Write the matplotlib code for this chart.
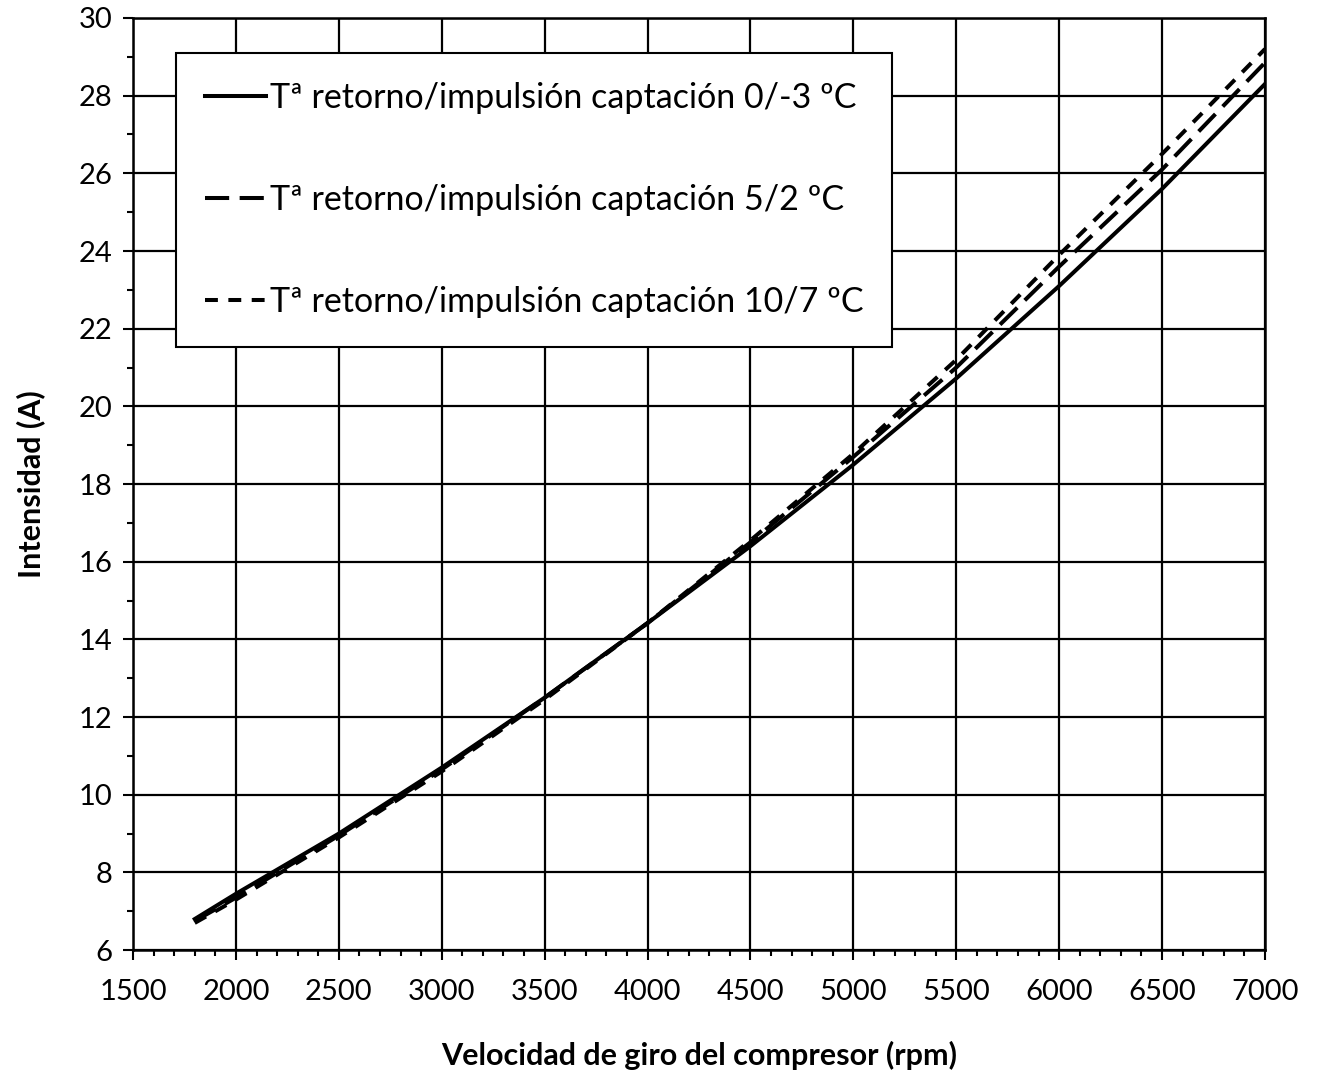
import matplotlib
matplotlib.use('Agg')
import matplotlib.pyplot as plt
from matplotlib.ticker import MultipleLocator

plt.rcParams['font.family'] = ['Lato', 'DejaVu Sans']

# datos
rpm = [1800, 2000, 2500, 3000, 3500, 4000, 4500, 5000, 5500, 6000, 6500, 7000]
i_0_3 = [6.8, 7.45, 9.0, 10.7, 12.5, 14.42, 16.4, 18.5, 20.72, 23.1, 25.6, 28.3]
i_5_2 = [6.75, 7.35, 8.95, 10.65, 12.5, 14.42, 16.5, 18.7, 21.0, 23.6, 26.1, 28.85]
i_10_7 = [6.7, 7.3, 8.9, 10.6, 12.45, 14.42, 16.55, 18.78, 21.2, 23.9, 26.5, 29.2]
etiquetas = ['Tª retorno/impulsión captación 0/-3 ºC',
             'Tª retorno/impulsión captación 5/2 ºC',
             'Tª retorno/impulsión captación 10/7 ºC']

fig = plt.figure(figsize=(13.17, 10.76), dpi=100)
ax = fig.add_axes([0.101, 0.117, 0.8595, 0.8663])

ax.plot(rpm, i_0_3, color='black', lw=2.9, label=etiquetas[0])
ax.plot(rpm, i_5_2, color='black', lw=2.9, dashes=(6, 2.6), label=etiquetas[1])
ax.plot(rpm, i_10_7, color='black', lw=2.9, dashes=(3.2, 2.6), label=etiquetas[2])

ax.set_xlim(1500, 7000)
ax.set_ylim(6, 30)
ax.xaxis.set_major_locator(MultipleLocator(500))
ax.xaxis.set_minor_locator(MultipleLocator(100))
ax.yaxis.set_major_locator(MultipleLocator(2))
ax.yaxis.set_minor_locator(MultipleLocator(1))
ax.grid(True, which='major', color='black', lw=1.6)
ax.set_axisbelow(True)
ax.tick_params(which='major', direction='out', length=7, width=1.5, labelsize=21)
ax.tick_params(axis='x', which='major', pad=14)
ax.tick_params(axis='y', which='major', pad=8)
ax.tick_params(which='minor', direction='out', length=4, width=1.5)
for s in ax.spines.values():
    s.set_linewidth(1.8)

ax.set_xlabel('Velocidad de giro del compresor (rpm)', fontsize=22, fontweight='bold', labelpad=26)
ax.set_ylabel('Intensidad (A)', fontsize=22, fontweight='bold', labelpad=24)

leg = ax.legend(loc='upper left', bbox_to_anchor=(0.038, 0.962), fontsize=24.5,
                fancybox=False, edgecolor='black', framealpha=1, handlelength=1.8,
                handletextpad=0.1, labelspacing=2.05, borderpad=0.85, borderaxespad=0)
leg.get_frame().set_linewidth(1.5)

fig.savefig('out.png', dpi=100)
